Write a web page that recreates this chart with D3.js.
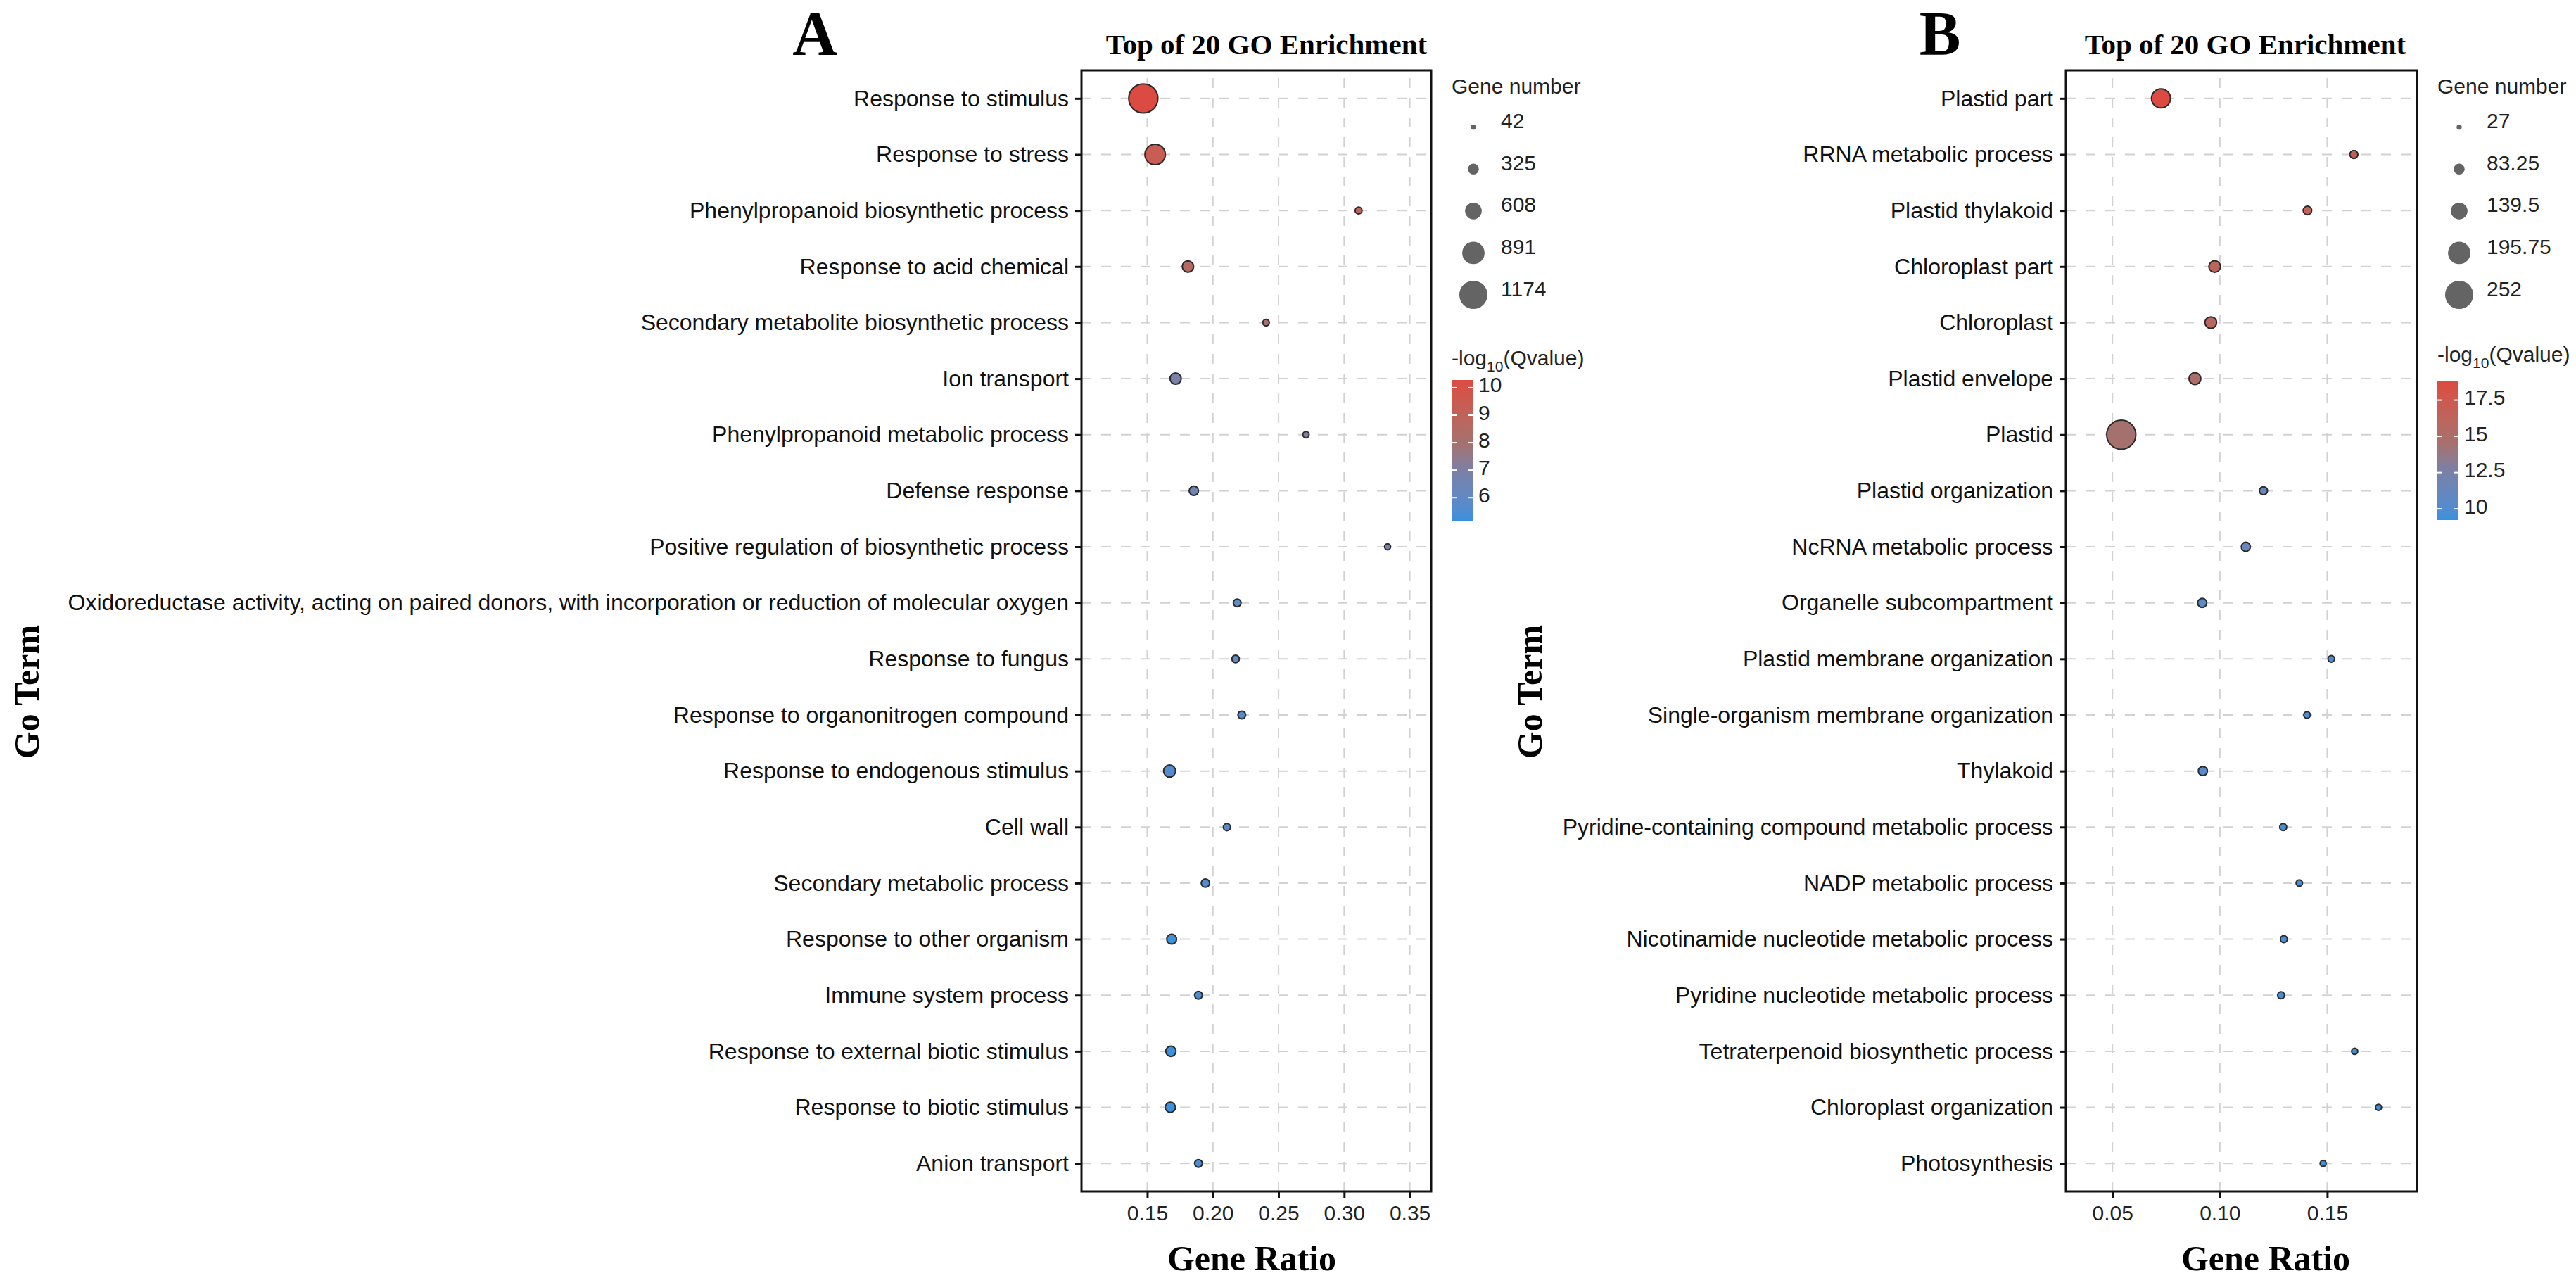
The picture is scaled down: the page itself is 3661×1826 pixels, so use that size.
<!DOCTYPE html>
<html><head><meta charset="utf-8">
<script src="https://cdn.jsdelivr.net/npm/d3@7"></script>
<style>body{margin:0;background:#fff}svg{display:block}</style>
</head><body>
<svg id="chart" width="3661" height="1826"></svg>
<script>
// ---------------- Panel A data ----------------
const termsA = [
  "Response to stimulus","Response to stress","Phenylpropanoid biosynthetic process",
  "Response to acid chemical","Secondary metabolite biosynthetic process","Ion transport",
  "Phenylpropanoid metabolic process","Defense response","Positive regulation of biosynthetic process",
  "Oxidoreductase activity, acting on paired donors, with incorporation or reduction of molecular oxygen",
  "Response to fungus","Response to organonitrogen compound","Response to endogenous stimulus",
  "Cell wall","Secondary metabolic process","Response to other organism","Immune system process",
  "Response to external biotic stimulus","Response to biotic stimulus","Anion transport"];
const ratioA = [0.147,0.156,0.311,0.181,0.2405,0.1716,0.2709,0.1855,0.3331,0.2185,
                0.2173,0.222,0.167,0.2107,0.1943,0.1686,0.189,0.168,0.1676,0.189];
const countA = [1174,745,80,302,63,295,50,201,42,122,108,122,333,94,149,226,122,243,243,122];
const qvalA  = [10.28,9.4,9.0,8.6,8.0,7.0,7.1,6.5,6.6,6.0,6.0,5.8,5.6,5.8,5.6,5.2,5.4,5.2,5.16,5.4];
const xTicksA = [0.15,0.20,0.25,0.30,0.35];
const sizeBreaksA = [42,325,608,891,1174];
const colorBreaksA = [6,7,8,9,10];

// ---------------- Panel B data ----------------
const termsB = [
  "Plastid part","RRNA metabolic process","Plastid thylakoid","Chloroplast part","Chloroplast",
  "Plastid envelope","Plastid","Plastid organization","NcRNA metabolic process","Organelle subcompartment",
  "Plastid membrane organization","Single-organism membrane organization","Thylakoid",
  "Pyridine-containing compound metabolic process","NADP metabolic process",
  "Nicotinamide nucleotide metabolic process","Pyridine nucleotide metabolic process",
  "Tetraterpenoid biosynthetic process","Chloroplast organization","Photosynthesis"];
const ratioB = [0.0726,0.1624,0.1408,0.0976,0.0958,0.0884,0.0541,0.1203,0.1121,0.0918,
                0.1519,0.1406,0.0921,0.1295,0.137,0.1298,0.1285,0.1628,0.1739,0.1481];
const countB = [153,46,50,81,81,84,252,46,56,56,32,32,56,36,30,36,35,27,27,27];
const qvalB  = [18.79,17.0,16.6,16.2,16.0,15.0,14.5,11.3,11.2,10.5,10.0,10.0,10.3,9.6,9.6,9.6,9.6,9.4,9.3,9.23];
const xTicksB = [0.05,0.10,0.15];
const sizeBreaksB = [27,83.25,139.5,195.75,252];
const colorBreaksB = [10,12.5,15,17.5];

// colour ramp (fraction of the data range -> colour)
const rampStops  = [0, 0.36, 0.55, 1];
const rampColors = ["#3a90dd", "#7a80a6", "#a5716f", "#dc4b42"];

const SANS = "'Liberation Sans', Arial, Helvetica, sans-serif";
const SERIF = "'Liberation Serif', 'Times New Roman', serif";

const svg = d3.select("#chart");

function panel(o) {
  const g = svg.append("g");
  const x = d3.scaleLinear().domain(o.xDomain).range([o.left, o.right]);
  const y = d3.scalePoint().domain(o.terms).range([o.top, o.bottom]).padding(0.5);
  const size = d3.scaleLinear().domain(d3.extent(o.sizeBreaks)).range([7.3, 40]);
  const qExt = d3.extent(o.qval);
  const color = d3.scaleLinear()
    .domain(rampStops.map(t => qExt[0] + t * (qExt[1] - qExt[0])))
    .range(rampColors).interpolate(d3.interpolateLab);

  // grid
  const grid = g.append("g").attr("stroke", "#d2d2d2").attr("stroke-width", 2).attr("stroke-dasharray", "14,14");
  grid.selectAll("line.h").data(o.terms).join("line").attr("class","h")
    .attr("x1", o.left).attr("x2", o.right).attr("y1", d => y(d)).attr("y2", d => y(d));
  grid.selectAll("line.v").data(o.xTicks).join("line").attr("class","v")
    .attr("x1", d => x(d)).attr("x2", d => x(d)).attr("y1", o.bottom).attr("y2", o.top);

  // points
  const data = o.terms.map((t, i) => ({t, r: o.ratio[i], n: o.count[i], q: o.qval[i]}));
  g.append("g").selectAll("circle").data(data).join("circle")
    .attr("cx", d => x(d.r)).attr("cy", d => y(d.t))
    .attr("r", d => size(d.n) / 2 + 0.7)
    .attr("fill", d => color(d.q)).attr("stroke", "#2a2a2a").attr("stroke-width", 2);

  // box
  g.append("rect").attr("x", o.left).attr("y", o.top).attr("width", o.right - o.left)
    .attr("height", o.bottom - o.top).attr("fill", "none").attr("stroke", "#111").attr("stroke-width", 3);

  // axes
  const ax = g.append("g").attr("transform", `translate(${o.left},0)`)
    .call(d3.axisLeft(y).tickSize(9).tickPadding(9));
  ax.select(".domain").remove();
  ax.selectAll(".tick line").attr("stroke", "#111").attr("stroke-width", 3);
  ax.selectAll(".tick text").attr("font-family", SANS).attr("font-size", 32).attr("fill", "#111");

  const bx = g.append("g").attr("transform", `translate(0,${o.bottom})`)
    .call(d3.axisBottom(x).tickValues(o.xTicks).tickFormat(d3.format(".2f")).tickSize(9).tickPadding(11));
  bx.select(".domain").remove();
  bx.selectAll(".tick line").attr("stroke", "#111").attr("stroke-width", 3);
  bx.selectAll(".tick text").attr("font-family", SANS).attr("font-size", 30).attr("fill", "#222");

  // titles
  g.append("text").attr("x", o.letterX).attr("y", 77).attr("text-anchor", "middle")
    .attr("font-family", SERIF).attr("font-weight", "bold").attr("font-size", 88).text(o.letter);
  g.append("text").attr("x", o.titleX).attr("y", 77).attr("text-anchor", "middle")
    .attr("font-family", SERIF).attr("font-weight", "bold").attr("font-size", 41).text("Top of 20 GO Enrichment");
  g.append("text").attr("x", o.xTitleX).attr("y", 1805).attr("text-anchor", "middle")
    .attr("font-family", SERIF).attr("font-weight", "bold").attr("font-size", 50).text("Gene Ratio");
  g.append("text").attr("transform", `translate(${o.yTitleX},983) rotate(-90)`).attr("text-anchor", "middle")
    .attr("font-family", SERIF).attr("font-weight", "bold").attr("font-size", 50).text("Go Term");

  // size legend
  const L = o.legendX;
  const lg = g.append("g");
  lg.append("text").attr("x", L).attr("y", 122).attr("dy", "0.35em")
    .attr("font-family", SANS).attr("font-size", 30).attr("fill", "#222").text("Gene number");
  const ly = d3.scalePoint().domain(o.sizeBreaks).range([180.7, 419]);
  lg.selectAll("circle").data(o.sizeBreaks).join("circle")
    .attr("cx", L + 31).attr("cy", d => ly(d)).attr("r", d => size(d) / 2).attr("fill", "#646464");
  lg.selectAll("text.sl").data(o.sizeBreaks).join("text").attr("class","sl")
    .attr("x", L + 70).attr("y", d => ly(d) - 9).attr("dy", "0.35em")
    .attr("font-family", SANS).attr("font-size", 30).attr("fill", "#222").text(d => d);

  // colour legend
  const ct = lg.append("text").attr("x", L).attr("y", o.cTitleY).attr("dy", "0.35em")
    .attr("font-family", SANS).attr("font-size", 30).attr("fill", "#222");
  ct.append("tspan").text("-log");
  ct.append("tspan").attr("font-size", 21).attr("dy", "0.45em").text("10");
  ct.append("tspan").attr("dy", "-0.3em").text("(Qvalue)");

  const barTop = o.barTop, barBot = o.barBot, bw = 30;
  const cy = d3.scaleLinear().domain(qExt).range([barBot, barTop]);
  const gid = "grad" + o.letter;
  const grad = svg.append("defs").append("linearGradient").attr("id", gid)
    .attr("x1", 0).attr("y1", 1).attr("x2", 0).attr("y2", 0);
  d3.range(0, 1.0001, 0.025).forEach(t => {
    grad.append("stop").attr("offset", t).attr("stop-color", color(qExt[0] + t * (qExt[1] - qExt[0])));
  });
  lg.append("rect").attr("x", L).attr("y", barTop).attr("width", bw).attr("height", barBot - barTop)
    .attr("fill", `url(#${gid})`);
  const tk = lg.append("g").attr("stroke", "#fff").attr("stroke-width", 2);
  tk.selectAll("line.l").data(o.colorBreaks).join("line").attr("class","l")
    .attr("x1", L).attr("x2", L + 7).attr("y1", d => cy(d)).attr("y2", d => cy(d));
  tk.selectAll("line.r").data(o.colorBreaks).join("line").attr("class","r")
    .attr("x1", L + bw - 7).attr("x2", L + bw).attr("y1", d => cy(d)).attr("y2", d => cy(d));
  lg.selectAll("text.cl").data(o.colorBreaks).join("text").attr("class","cl")
    .attr("x", L + 38).attr("y", d => cy(d) - 4).attr("dy", "0.35em")
    .attr("font-family", SANS).attr("font-size", 30).attr("fill", "#222").text(d => d);
}

panel({
  letter: "A", terms: termsA, ratio: ratioA, count: countA, qval: qvalA,
  xTicks: xTicksA, sizeBreaks: sizeBreaksA, colorBreaks: colorBreaksA,
  xDomain: [0.0999, 0.3663], left: 1537, right: 2034, top: 100, bottom: 1693,
  letterX: 1158, titleX: 1800, xTitleX: 1779, yTitleX: 55,
  legendX: 2063, cTitleY: 508, barTop: 540, barBot: 740
});
panel({
  letter: "B", terms: termsB, ratio: ratioB, count: countB, qval: qvalB,
  xTicks: xTicksB, sizeBreaks: sizeBreaksB, colorBreaks: colorBreaksB,
  xDomain: [0.0283, 0.1918], left: 2936, right: 3435, top: 100, bottom: 1693,
  letterX: 2757, titleX: 3191, xTitleX: 3220, yTitleX: 2191,
  legendX: 3464, cTitleY: 503, barTop: 542, barBot: 739
});
</script>
</body></html>
